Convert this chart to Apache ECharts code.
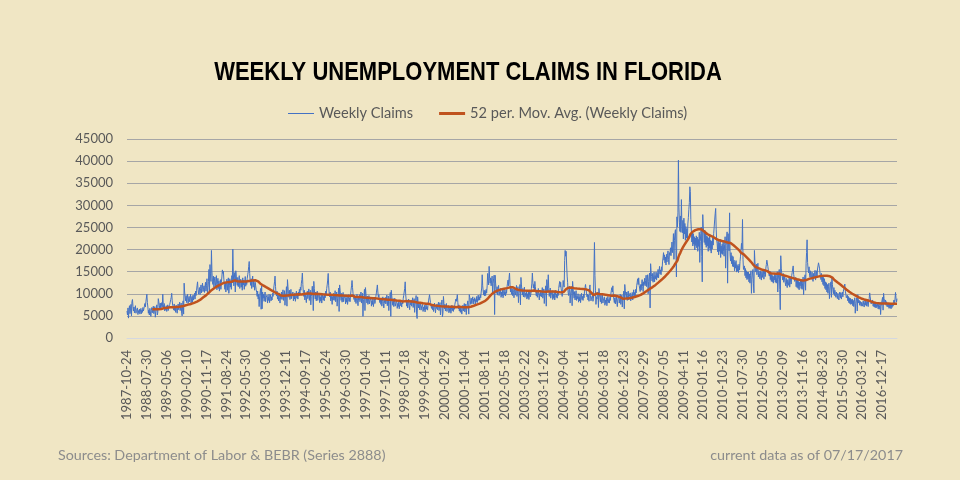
<!DOCTYPE html>
<html>
<head>
  <meta charset="utf-8">
  <title>Weekly Unemployment Claims in Florida</title>
  <script src="https://cdn.jsdelivr.net/npm/echarts@6/dist/echarts.min.js"></script>
  <style>
    html, body { margin: 0; padding: 0; background: #F0E6C4; }
    #main { width: 960px; height: 480px; }
  </style>
</head>
<body>
<div id="main"></div>
<script type="text/javascript">
  // weekly claims, one array per calendar year (weeks ending on Saturday)
  var claims1987 = [6100, 5200, 6800, 4500, 6400, 7300, 5500, 6600, 7600, 5000];
  var claims1988 = [8200, 8700, 7200, 6100, 7000, 5700, 6400, 7300, 5600, 6200,
    5900, 6800, 5300, 6200, 5700, 6500, 5400, 6100, 6700, 5500,
    6300, 5800, 6900, 6100, 6600, 7200, 7800, 7000, 8200, 8600,
    9900, 8000, 7000, 5600, 6300, 5200, 6700, 5900, 4900, 6200,
    6900, 5700, 6400, 7200, 5500, 6300, 7100, 4700, 6000, 6700,
    7500, 5200, 5800];
  var claims1989 = [8900, 8200, 7400, 6600, 7900, 6400, 7200, 8000, 7000, 9900,
    7600, 6600, 7800, 6100, 7000, 6400, 7300, 6000, 6800, 7500,
    6200, 7000, 6600, 7600, 8100, 8700, 9200, 10100, 8400, 7400,
    7000, 6300, 7700, 6200, 7100, 5800, 7400, 6600, 5600, 6900,
    7700, 6400, 7200, 8100, 6200, 7000, 7900, 5600, 5000, 7600,
    8400, 5400];
  var claims1990 = [12400, 10400, 9300, 8400, 9600, 8000, 9000, 9900, 7800, 8800,
    9400, 8200, 9000, 9900, 7900, 8800, 9400, 8100, 9700, 8600,
    9200, 10100, 8800, 10600, 9600, 10800, 11800, 12700, 11000, 9900,
    10700, 11400, 9800, 11200, 12000, 10200, 11300, 12400, 10500, 11000,
    11800, 10300, 11500, 12600, 10600, 11900, 13400, 9800, 11400, 12800,
    15500, 10200];
  var claims1991 = [16600, 14500, 12800, 19800, 15000, 12700, 12100, 14000, 11500, 13100,
    13800, 11800, 12600, 14100, 10900, 12400, 13500, 11200, 12900, 10600,
    11900, 13200, 11000, 12600, 13800, 15400, 14600, 15100, 13300, 12000,
    11000, 12600, 10400, 12000, 13300, 10800, 12400, 13600, 10100, 11800,
    13400, 11500, 12900, 11000, 14100, 12500, 20100, 15000, 11800, 13600,
    14800, 10400];
  var claims1992 = [15200, 14000, 12600, 11900, 13700, 11600, 12800, 14100, 11200, 12400,
    13300, 11500, 12700, 10800, 13600, 12000, 13100, 11000, 12500, 13900,
    11700, 13000, 12100, 13500, 14300, 15000, 16200, 17300, 14600, 12800,
    11900, 13400, 11200, 12800, 14000, 11500, 13100, 12200, 10800, 12600,
    11800, 11000, 10300, 9400, 10600, 8800, 9900, 7100, 9300, 10400,
    11200, 6500];
  var claims1993 = [11800, 6600, 10400, 9000, 9900, 8300, 9500, 10400, 8200, 9200,
    8800, 9700, 7900, 9300, 8500, 9900, 8000, 9000, 9800, 8400,
    9300, 8600, 10100, 9400, 10800, 11800, 12700, 14000, 11600, 10000,
    9500, 10600, 8800, 9900, 8400, 10200, 9200, 7900, 9700, 8900,
    10400, 8700, 9800, 10900, 8500, 9600, 10700, 7400, 9300, 10200,
    11600, 7200];
  var claims1994 = [13200, 11600, 10100, 9200, 10800, 8700, 9800, 11000, 8900, 9700,
    9300, 10400, 8400, 9700, 8800, 10200, 8300, 9500, 10600, 9000,
    9800, 8800, 10400, 9500, 11000, 9800, 11500, 10800, 12400, 13200,
    14700, 12100, 10300, 9400, 10800, 8600, 10000, 9200, 8000, 9700,
    10600, 8900, 9900, 11100, 8500, 9700, 10800, 7500, 9400, 10300,
    11700, 9800, 6200];
  var claims1995 = [12800, 11200, 9800, 8800, 10400, 8400, 9500, 10600, 8500, 9300,
    8900, 10000, 8000, 9300, 8400, 9800, 7900, 9000, 10100, 8600,
    9400, 8400, 10000, 9100, 10600, 9700, 11200, 12000, 13100, 14600,
    11800, 10200, 9300, 10400, 8400, 9700, 8800, 7600, 9400, 8600,
    10100, 8500, 9500, 10700, 8200, 9300, 10400, 7200, 9000, 9900,
    11300, 6000];
  var claims1996 = [12000, 10800, 9500, 8500, 10100, 8100, 9200, 10300, 8200, 9000,
    8600, 9700, 7700, 9000, 8100, 9500, 7600, 8700, 9800, 8300,
    9100, 8200, 9700, 10800, 11800, 13000, 11400, 10100, 9400, 8700,
    9600, 8200, 9300, 7800, 8900, 9900, 8400, 7300, 9100, 8600,
    9800, 8200, 9200, 10400, 7900, 9000, 10100, 4900, 8700, 9600,
    11000, 6200];
  var claims1997 = [11400, 10100, 8900, 7900, 9500, 7600, 8600, 9600, 7700, 8400,
    8000, 9100, 7200, 8400, 7600, 8900, 7100, 8100, 9200, 7800,
    8500, 9400, 10200, 11100, 12000, 10400, 9200, 9800, 8600, 8000,
    8900, 7600, 8700, 7200, 8300, 9300, 7800, 6800, 8500, 8000,
    9200, 7700, 8600, 9700, 7300, 8400, 9500, 6200, 8200, 9000,
    10300, 4900];
  var claims1998 = [10800, 9500, 8300, 7400, 8900, 7100, 8000, 9000, 7200, 7800,
    7500, 8500, 6700, 7800, 7100, 8300, 6600, 7600, 8600, 7300,
    7900, 7000, 8400, 7700, 8900, 9600, 10400, 11200, 12700, 9800,
    8600, 7200, 8200, 6800, 7900, 8800, 7300, 6400, 8000, 7500,
    8600, 7200, 8100, 9100, 6900, 7900, 8900, 5800, 7700, 8500,
    9600, 5300];
  var claims1999 = [4400, 9300, 8000, 6800, 7900, 6400, 7200, 8100, 6300, 7000,
    6700, 7600, 6000, 7000, 6300, 7400, 5900, 6800, 7700, 6500,
    7100, 6300, 7500, 8400, 9100, 9800, 8800, 8000, 7300, 6700,
    7600, 6400, 7300, 6000, 7000, 7900, 6500, 5700, 7200, 6700,
    7700, 6400, 7200, 8100, 6200, 7100, 8000, 5200, 6900, 7600,
    8600, 4800];
  var claims2000 = [5600, 9400, 7800, 6600, 7600, 6100, 6900, 7800, 6000, 6700,
    6400, 7300, 5700, 6700, 6000, 7100, 5600, 6500, 7400, 6200,
    6800, 6000, 7200, 6500, 7600, 8200, 8800, 8300, 9100, 9800,
    8000, 6600, 7500, 6100, 7000, 5800, 7200, 6400, 5400, 6700,
    7400, 6100, 6900, 7800, 5900, 6800, 7700, 5300, 6800, 7500,
    8400, 7200, 5400];
  var claims2001 = [9800, 9200, 8400, 7600, 9000, 7800, 8500, 9300, 7700, 8800,
    8300, 9100, 7600, 8700, 8200, 9400, 8000, 8900, 9700, 8500,
    9300, 8600, 9800, 9100, 10400, 11300, 14300, 11800, 10600, 9700,
    10800, 9500, 10700, 9600, 11000, 10200, 11800, 14600, 13100, 12000,
    16200, 13400, 12400, 13600, 11800, 13100, 14000, 10100, 12300, 13400,
    14200, 5300];
  var claims2002 = [14200, 12400, 11100, 10100, 11600, 9700, 10800, 11900, 9600, 10500,
    10000, 11200, 9200, 10400, 9500, 10900, 9100, 10100, 11300, 9700,
    10400, 9500, 10900, 10100, 11600, 12400, 13100, 11800, 13500, 14700,
    12100, 10400, 11500, 9900, 11000, 9600, 11200, 10300, 9100, 10600,
    11300, 9700, 10700, 11900, 9400, 10500, 11600, 8000, 10100, 11000,
    12100, 7500];
  var claims2003 = [13700, 12000, 10700, 9700, 11200, 9300, 10400, 11500, 9200, 10100,
    9600, 10800, 8800, 10000, 9100, 10500, 8700, 9700, 10900, 9300,
    10000, 11200, 12400, 14700, 12600, 11300, 12100, 10700, 12800, 11600,
    10400, 9500, 10800, 9200, 10300, 11200, 9600, 8600, 10100, 9500,
    10800, 9300, 10200, 11400, 9000, 10000, 11100, 7800, 9800, 10700,
    11800, 7200];
  var claims2004 = [13200, 11800, 10600, 14300, 11200, 9400, 10400, 11300, 9000, 9900,
    9500, 10700, 8700, 9900, 9000, 10400, 8600, 9600, 10800, 9200,
    9900, 9000, 10400, 9600, 11200, 12100, 12800, 11500, 12600, 11100,
    10400, 9400, 10900, 13000, 12000, 11500, 17500, 19800, 18500, 19600,
    16500, 14000, 12500, 10300, 9600, 10800, 11700, 7900, 9900, 10800,
    11600, 7300];
  var claims2005 = [12800, 11200, 9900, 9000, 10500, 8600, 9700, 10700, 8500, 9400,
    8900, 10000, 8100, 9300, 8400, 9800, 8000, 9000, 10100, 8700,
    9400, 8500, 9900, 9100, 10600, 11400, 12100, 11000, 10200, 9300,
    9900, 8600, 9700, 8300, 11400, 12000, 9600, 8400, 9100, 8700,
    9600, 8300, 9000, 15200, 21600, 14100, 10800, 7600, 9300, 8800,
    9900, 10400, 6900];
  var claims2006 = [11200, 10100, 9100, 8200, 9700, 7800, 8800, 9800, 7900, 8600,
    8200, 9300, 7400, 8600, 7800, 9100, 7300, 8300, 9400, 8000,
    8700, 7900, 9200, 8500, 9900, 10800, 11400, 10400, 11800, 9600,
    9200, 8000, 9100, 7700, 8700, 9600, 8100, 7100, 8800, 8400,
    9400, 7900, 8800, 9900, 7600, 8700, 9700, 7000, 8600, 9500,
    10600, 6600];
  var claims2007 = [12100, 10800, 9700, 8900, 10400, 8500, 9600, 10600, 8600, 9400,
    9100, 10200, 8400, 9600, 8800, 10300, 8600, 9700, 10900, 9400,
    10300, 9500, 11000, 10200, 11800, 12600, 13400, 12100, 13600, 11900,
    11600, 10500, 12100, 10800, 12300, 13200, 11600, 10500, 12700, 12100,
    13500, 11800, 13000, 14200, 11600, 13100, 14300, 10000, 12800, 14000,
    14700, 6800];
  var claims2008 = [16800, 15000, 13900, 12900, 14600, 12600, 13800, 14900, 12700, 14100,
    13400, 14900, 13100, 14600, 13700, 15500, 13600, 15000, 16200, 14500,
    15400, 14300, 16100, 15200, 17200, 18100, 19300, 17600, 18800, 17000,
    18300, 16500, 18900, 17200, 18600, 19700, 17800, 16600, 19300, 18800,
    20400, 18600, 19900, 21700, 19300, 21100, 23600, 17800, 22100, 23800,
    24500, 19800];
  var claims2009 = [13800, 27400, 25100, 28300, 40200, 29600, 26200, 24100, 27600, 23900,
    31300, 25200, 23800, 26600, 22400, 27100, 23500, 25900, 22100, 25200,
    22600, 24700, 21900, 25800, 27200, 29100, 30600, 34200, 33100, 26800,
    24400, 21700, 24100, 20800, 23600, 21200, 22900, 19900, 22600, 20900,
    23100, 20400, 22800, 19600, 22300, 20700, 23900, 17100, 21800, 23600,
    25100, 18400];
  var claims2010 = [12700, 27900, 25100, 23800, 21600, 24400, 21100, 23600, 20500, 23100,
    20800, 22900, 19600, 22600, 20300, 23500, 19800, 22100, 19200, 21900,
    20100, 22800, 21000, 23600, 25100, 26700, 28100, 29300, 24600, 22200,
    21300, 19500, 21900, 18800, 21500, 19600, 22300, 18200, 20800, 19100,
    21200, 18900, 21800, 19600, 18500, 21100, 22900, 15800, 20900, 22600,
    24000, 12400];
  var claims2011 = [23600, 21400, 19700, 28300, 18800, 17400, 19300, 16800, 18600, 16200,
    18400, 16100, 17600, 15200, 17100, 15800, 17500, 14900, 16600, 15100,
    16300, 14800, 16700, 15400, 17300, 18500, 19800, 21400, 20100, 26800,
    17800, 15500, 15200, 16300, 14100, 15700, 13600, 15200, 13200, 14900,
    13400, 14900, 12700, 14500, 12400, 14100, 15200, 10100, 13300, 14700,
    15500, 12400, 10200];
  var claims2012 = [19800, 17200, 15800, 14900, 16700, 14300, 15700, 16900, 13800, 15200,
    14600, 13400, 15200, 13700, 13100, 15000, 13700, 14700, 15600, 13300,
    14400, 15500, 13900, 15800, 16600, 17600, 17800, 16200, 15300, 14500,
    14000, 15100, 13200, 14800, 12800, 14400, 12700, 14100, 12400, 13900,
    13100, 14500, 12600, 14200, 12400, 13700, 15000, 10400, 13300, 14700,
    15500, 11000];
  var claims2013 = [6400, 18600, 15800, 14600, 13900, 13100, 14600, 12600, 12200, 13900,
    12500, 11800, 13500, 12100, 11400, 13200, 12800, 11900, 13700, 11500,
    12600, 13800, 12200, 14100, 14800, 15600, 16300, 14400, 13600, 12800,
    12400, 13700, 11600, 13300, 11400, 13100, 11200, 12800, 10900, 12600,
    11800, 13300, 11200, 12900, 11000, 12400, 13800, 9800, 12200, 13600,
    14300, 10800];
  var claims2014 = [16800, 19300, 22200, 17100, 15600, 14700, 16100, 14200, 13700, 15200,
    13900, 13300, 14900, 13500, 12800, 14600, 13600, 14400, 15300, 13100,
    14000, 15200, 13700, 15600, 16300, 17000, 17300, 15800, 14700, 13900,
    13200, 14600, 12700, 14100, 12100, 13700, 11800, 13400, 11200, 12700,
    10900, 12500, 10400, 12100, 10100, 11600, 12400, 8900, 10800, 12000,
    12700, 9200];
  var claims2015 = [13600, 12100, 10900, 10000, 11400, 9600, 10800, 9900, 9200, 10400,
    9600, 8900, 10100, 9200, 8600, 9900, 10400, 9100, 10200, 8800,
    9600, 10400, 9300, 10600, 11100, 11700, 12200, 10600, 9900, 9100,
    8800, 9700, 8400, 9400, 8000, 9100, 7800, 9000, 7600, 8700,
    7700, 8800, 7300, 8500, 7100, 8200, 9100, 5600, 7800, 8600,
    9100];
  var claims2016 = [6100, 9800, 8800, 7900, 8500, 7400, 8300, 7700, 7200, 8100,
    7900, 7200, 8400, 7500, 7000, 8100, 8700, 7400, 8300, 7200,
    7600, 8300, 7100, 8400, 8900, 10200, 9300, 8400, 7700, 7300,
    7900, 8600, 7200, 8100, 7000, 7900, 6900, 7800, 6800, 7600,
    7100, 7800, 6600, 7600, 6500, 7300, 8100, 5300, 7200, 7900,
    8600, 9200, 6300];
  var claims2017 = [10100, 8900, 8400, 7700, 8600, 7400, 8200, 7100, 7900, 7000,
    7800, 6700, 7600, 6800, 7500, 6600, 7700, 6900, 7900, 7200,
    8100, 8600, 7600, 8800, 10300, 9000, 8100, 8900];

  // dates shown under the axis
  var tickLabels = ['1987-10-24', '1988-07-30', '1989-05-06', '1990-02-10', '1990-11-17',
    '1991-08-24', '1992-05-30', '1993-03-06', '1993-12-11', '1994-09-17', '1995-06-24',
    '1996-03-30', '1997-01-04', '1997-10-11', '1998-07-18', '1999-04-24', '2000-01-29',
    '2000-11-04', '2001-08-11', '2002-05-18', '2003-02-22', '2003-11-29', '2004-09-04',
    '2005-06-11', '2006-03-18', '2006-12-23', '2007-09-29', '2008-07-05', '2009-04-11',
    '2010-01-16', '2010-10-23', '2011-07-30', '2012-05-05', '2013-02-09', '2013-11-16',
    '2014-08-23', '2015-05-30', '2016-03-12', '2016-12-17'];
  var firstWeek = '1987-10-24';
  var missingWeek = '2015-12-26';   // no row for this week in the source table
  var maPeriod = 52;

  var weeklyClaims = [].concat(claims1987, claims1988, claims1989, claims1990, claims1991,
    claims1992, claims1993, claims1994, claims1995, claims1996, claims1997, claims1998,
    claims1999, claims2000, claims2001, claims2002, claims2003, claims2004, claims2005,
    claims2006, claims2007, claims2008, claims2009, claims2010, claims2011, claims2012,
    claims2013, claims2014, claims2015, claims2016, claims2017);

  // week-ending dates for the category axis
  var weeks = [];
  var t = Date.parse(firstWeek + 'T00:00:00Z');
  while (weeks.length < weeklyClaims.length) {
    var d = new Date(t).toISOString().slice(0, 10);
    if (d !== missingWeek) weeks.push(d);
    t += 7 * 24 * 3600 * 1000;
  }

  // 52 period trailing moving average, like the Excel trendline
  var movAvg = weeklyClaims.map(function (v, i) {
    if (i < maPeriod - 1) return null;
    var s = 0;
    for (var k = i - maPeriod + 1; k <= i; k++) s += weeklyClaims[k];
    return Math.round(s / maPeriod);
  });

  var myChart = echarts.init(document.getElementById('main'));
  var gridColors = ['#D4D8E0', '#A6A6A6', '#A6A6A6', '#A6A6A6', '#A6A6A6',
    '#A6A6A6', '#A6A6A6', '#A6A6A6', '#A6A6A6', '#A6A6A6'];

  var option = {
    backgroundColor: '#F0E6C4',
    animation: false,
    textStyle: { fontFamily: 'Lato' },
    graphic: [
      {
        type: 'text', x: 468, y: 73, scaleX: 0.88,
        style: {
          text: 'WEEKLY UNEMPLOYMENT CLAIMS IN FLORIDA',
          fill: '#000000', fontFamily: 'Liberation Sans', fontWeight: 'bold', fontSize: 25,
          textAlign: 'center', textVerticalAlign: 'middle'
        }
      },
      {
        type: 'text', x: 58, y: 455,
        style: {
          text: 'Sources: Department of Labor & BEBR (Series 2888)',
          fill: '#8C8C8C', fontFamily: 'Lato', fontSize: 14.3,
          textAlign: 'left', textVerticalAlign: 'middle'
        }
      },
      {
        type: 'text', x: 903, y: 455,
        style: {
          text: 'current data as of 07/17/2017',
          fill: '#8C8C8C', fontFamily: 'Lato', fontSize: 14.3,
          textAlign: 'right', textVerticalAlign: 'middle'
        }
      }
    ],
    legend: {
      left: 283, top: 101,
      itemWidth: 26, itemHeight: 14, itemGap: 26,
      textStyle: { color: '#595959', fontSize: 14.6, fontFamily: 'Lato' },
      data: [
        { name: 'Weekly Claims', icon: 'path://M0,0H26V1H0Z' },
        { name: '52 per. Mov. Avg. (Weekly Claims)', icon: 'path://M0,0H26V3H0Z' }
      ]
    },
    grid: { left: 127, right: 63, top: 139, bottom: 142 },
    xAxis: {
      type: 'category',
      data: weeks,
      boundaryGap: false,
      axisLine: { lineStyle: { color: '#D4D8E0' } },
      axisTick: { show: false },
      axisLabel: {
        rotate: 90, margin: 12, color: '#595959', fontSize: 13,
        interval: function (i, v) { return tickLabels.indexOf(v) >= 0; }
      },
      splitLine: { show: false }
    },
    yAxis: {
      type: 'value',
      min: 0, max: 45000, interval: 5000,
      axisLine: { show: false },
      axisTick: { show: false },
      axisLabel: {
        margin: 14, color: '#595959', fontSize: 13,
        formatter: function (v) { return String(v); }
      },
      splitLine: { lineStyle: { color: gridColors, width: 1 } }
    },
    series: [
      {
        name: 'Weekly Claims',
        type: 'line',
        data: weeklyClaims,
        symbol: 'none',
        lineStyle: { color: '#4472C4', width: 1 },
        itemStyle: { color: '#4472C4' },
        z: 2
      },
      {
        name: '52 per. Mov. Avg. (Weekly Claims)',
        type: 'line',
        data: movAvg,
        symbol: 'none',
        lineStyle: { color: '#C0531E', width: 2.5 },
        itemStyle: { color: '#C0531E' },
        z: 3
      }
    ]
  };

  myChart.setOption(option);
</script>
</body>
</html>
